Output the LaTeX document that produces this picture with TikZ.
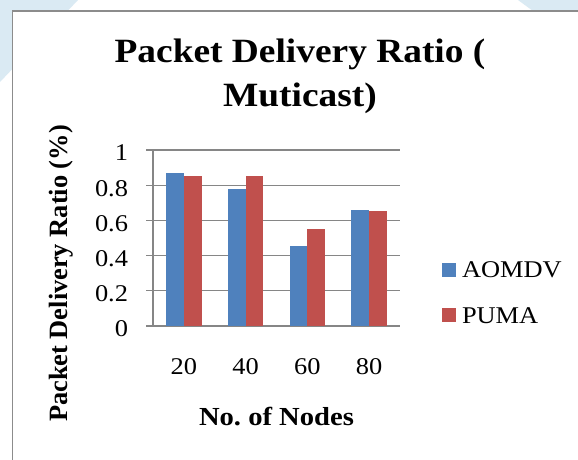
\documentclass[tikz,border=0pt]{standalone}
\usepackage{fontspec}
\setmainfont{Liberation Serif}
\newfontfamily\chartfont[FakeStretch=1.1]{Liberation Serif}
\usetikzlibrary{positioning}
\definecolor{SeriesAomdv}{RGB}{79,129,189}
\definecolor{SeriesPuma}{RGB}{192,80,77}
\definecolor{ChartGrid}{RGB}{134,134,134}
\definecolor{ChartFrame}{RGB}{140,140,140}
\definecolor{PageTint}{RGB}{218,234,243}

\begin{document}
\begin{tikzpicture}[x=1pt, y=1pt,
        gridline/.style={draw=ChartGrid, line width=1.2pt},
        txt/.style={inner sep=0pt, outer sep=0pt},
        headfont/.style={txt, font=\chartfont\bfseries\fontsize{34}{34}\selectfont},
        axtitle/.style={txt, font=\chartfont\bfseries\fontsize{26}{26}\selectfont},
        lbl/.style={txt, font=\chartfont\fontsize{24}{24}\selectfont},
        legkey/.style={minimum size=14pt, inner sep=0pt}
]
    \useasboundingbox (0,0) rectangle (578,460);
    % page behind the chart
    \fill[white] (0,0) rectangle (578,460);
    \fill[PageTint] (0,460) -- (78,460) -- (0,378) -- cycle;
    \fill[PageTint] (518,460) -- (578,460) -- (578,449) -- (533,449) -- cycle;
    \fill[white] (12.5,0) rectangle (578,449);
    \draw[ChartFrame, line width=1.6pt] (12.5,0) -- (12.5,449) -- (578,449);

    \node[headfont, anchor=base] (title1) at (300,397) {Packet Delivery Ratio (};
    \node[headfont, anchor=base] (title2) at (300,353) {Muticast)};

    % grid and value axis
    \foreach \v [count=\k] in {0,0.2,0.4,0.6,0.8,1} {
        \draw[gridline] (146,{134+176*\v}) -- (400,{134+176*\v});
        \node[lbl, anchor=base east] (tick\k) at (128,{123+176*\v}) {\v};
    }
    \draw[gridline] (153,134) -- (153,310);

    % bars
    \foreach \n/\a/\p [count=\i] in {20/0.87/0.852, 40/0.776/0.852, 60/0.453/0.551, 80/0.661/0.655} {
        \pgfmathsetmacro\cx{153+61.75*(\i-0.5)}
        \fill[SeriesAomdv] (\cx-17.7,134) rectangle (\cx,{134+176*\a});
        \fill[SeriesPuma]  (\cx,134) rectangle (\cx+17.7,{134+176*\p});
        \node[lbl, anchor=base] (cat\i) at (\cx,85) {\n};
    }

    \node[axtitle, anchor=base] (xtitle) at (276.5,34) {No.\ of Nodes};
    \node[txt, font=\bfseries\fontsize{26.4}{26.4}\selectfont, rotate=90, anchor=base]
        (ytitle) at (67.5,186.5) {Packet Delivery Ratio (\%)};

    % legend
    \node[legkey, fill=SeriesAomdv] (keyA) at (449,190) {};
    \node[legkey, fill=SeriesPuma]  (keyP) at (449,145) {};
    \node[lbl, anchor=base west] (nameA) at (462,182) {AOMDV};
    \node[lbl, anchor=base west] (nameP) at (462,136) {PUMA};
\end{tikzpicture}
\end{document}
